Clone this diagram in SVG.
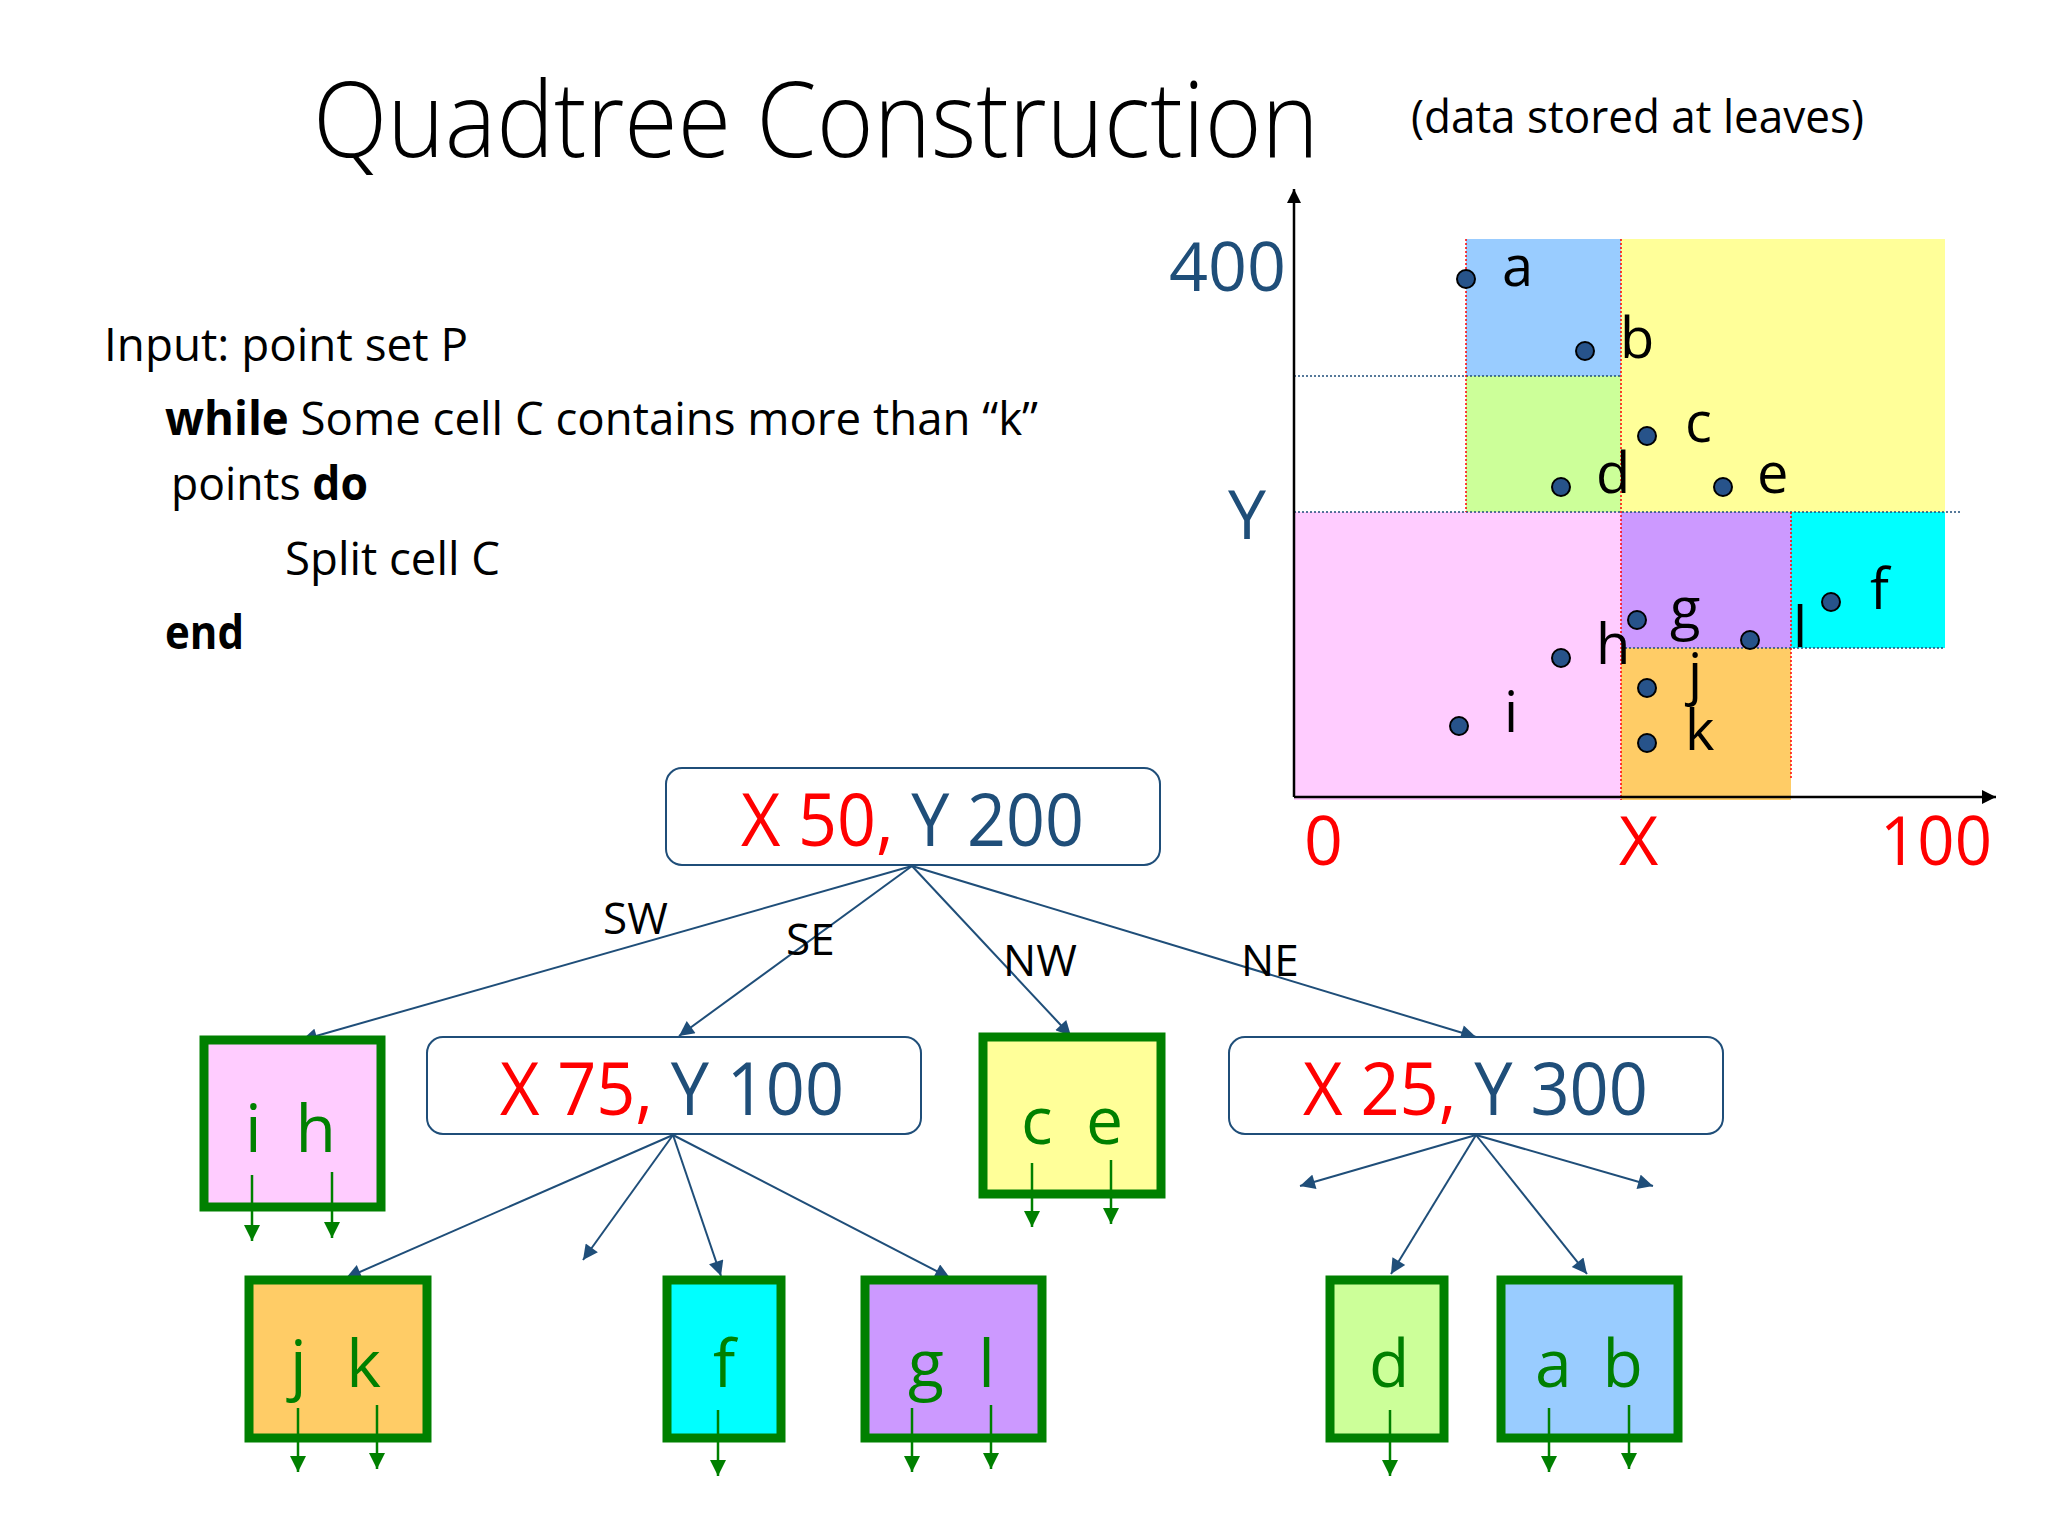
<svg xmlns="http://www.w3.org/2000/svg" width="2048" height="1536" viewBox="0 0 2048 1536">
<defs>
<marker id="mNavy" viewBox="0 0 10 10" refX="10" refY="5" markerWidth="17" markerHeight="15" markerUnits="userSpaceOnUse" orient="auto"><path d="M0,0 L10,5 L0,10 z" fill="#1F4E79"/></marker>
<marker id="mGreen" viewBox="0 0 10 10" refX="10" refY="5" markerWidth="16" markerHeight="16" markerUnits="userSpaceOnUse" orient="auto"><path d="M0,0 L10,5 L0,10 z" fill="#008000"/></marker>
<marker id="mBlack" viewBox="0 0 10 10" refX="10" refY="5" markerWidth="18" markerHeight="14" markerUnits="userSpaceOnUse" orient="auto"><path d="M0,0 L10,5 L0,10 z" fill="#000"/></marker>
</defs>
<style>
text{font-family:"Open Sans","Liberation Sans",sans-serif}
.t{fill:#000}
.b{font-weight:bold}
.red{fill:#FF0000}
.navy{fill:#1F4E79}
.split{fill:#fff;stroke:#1F4E79;stroke-width:2}
.leaf{stroke:#008000;stroke-width:9}
.lt{fill:#008000;font-size:66px}
.conn{stroke:#1F4E79;stroke-width:2;fill:none;marker-end:url(#mNavy)}
.garr{stroke:#008000;stroke-width:2.5;fill:none;marker-end:url(#mGreen)}
.dotB{stroke:#1F4E79;stroke-width:1.5;stroke-dasharray:2 2;fill:none}
.dotR{stroke:#FF0000;stroke-width:1.5;stroke-dasharray:2 2;fill:none}
.pt{fill:#27538A;stroke:#000;stroke-width:2}
.pl{font-size:56px;fill:#000}
.ax{font-size:68px}
.lbl{font-size:44px;fill:#000}
</style>
<rect width="2048" height="1536" fill="#fff"/>

<g id="title">
<text x="313" y="157" font-size="106" font-weight="300" textLength="1006" lengthAdjust="spacingAndGlyphs" class="t">Quadtree Construction</text>
<text x="1411" y="133" font-size="46" textLength="453" lengthAdjust="spacingAndGlyphs" class="t">(data stored at leaves)</text>
</g>

<g id="algorithm" font-size="46">
<text x="104" y="361" textLength="364" lengthAdjust="spacingAndGlyphs" class="t">Input: point set P</text>
<text x="165" y="435" textLength="873" lengthAdjust="spacingAndGlyphs" class="t"><tspan class="b">while</tspan> Some cell C contains more than “k”</text>
<text x="171" y="500" textLength="197" lengthAdjust="spacingAndGlyphs" class="t">points <tspan class="b">do</tspan></text>
<text x="285" y="575" textLength="215" lengthAdjust="spacingAndGlyphs" class="t">Split cell C</text>
<text x="165" y="649" textLength="79" lengthAdjust="spacingAndGlyphs" class="t b">end</text>
</g>

<g id="chart">
<rect x="1466" y="239" width="155" height="137" fill="#99CCFF"/>
<rect x="1621" y="239" width="324" height="273" fill="#FFFF99"/>
<rect x="1466" y="376" width="155" height="136" fill="#CCFF99"/>
<rect x="1294" y="512" width="327" height="288" fill="#FFCCFF"/>
<rect x="1621" y="512" width="170" height="136" fill="#CC99FF"/>
<rect x="1791" y="512" width="154" height="136" fill="#00FFFF"/>
<rect x="1621" y="648" width="170" height="152" fill="#FFCC66"/>
<path class="dotB" d="M1294,376 H1621 M1294,512 H1961 M1621,648 H1945"/>
<path class="dotR" d="M1466,239 V512 M1621,239 V800 M1791,512 V780"/>
<line x1="1294" y1="797" x2="1294" y2="189" stroke="#000" stroke-width="2.5" marker-end="url(#mBlack)"/>
<line x1="1294" y1="797" x2="1996" y2="797" stroke="#000" stroke-width="2.5" marker-end="url(#mBlack)"/>
<text x="1169" y="291" textLength="117" lengthAdjust="spacingAndGlyphs" class="ax navy">400</text>
<text x="1228" y="539" class="ax navy">Y</text>
<text x="1304" y="865" class="ax red">0</text>
<text x="1619" y="865" class="ax red">X</text>
<text x="1880" y="865" textLength="112" lengthAdjust="spacingAndGlyphs" class="ax red">100</text>
<circle class="pt" cx="1466" cy="279" r="9"/><text class="pl" x="1502" y="286">a</text>
<circle class="pt" cx="1585" cy="351" r="9"/><text class="pl" x="1620" y="358">b</text>
<circle class="pt" cx="1647" cy="436" r="9"/><text class="pl" x="1685" y="442">c</text>
<circle class="pt" cx="1561" cy="487" r="9"/><text class="pl" x="1596" y="493">d</text>
<circle class="pt" cx="1723" cy="487" r="9"/><text class="pl" x="1757" y="493">e</text>
<circle class="pt" cx="1831" cy="602" r="9"/><text class="pl" x="1870" y="609">f</text>
<circle class="pt" cx="1637" cy="620" r="9"/><text class="pl" x="1670" y="628">g</text>
<circle class="pt" cx="1750" cy="640" r="9"/><text class="pl" x="1793" y="647">l</text>
<circle class="pt" cx="1561" cy="658" r="9"/><text class="pl" x="1596" y="664">h</text>
<circle class="pt" cx="1647" cy="688" r="9"/><text class="pl" x="1688" y="693">j</text>
<circle class="pt" cx="1647" cy="743" r="9"/><text class="pl" x="1685" y="750">k</text>
<circle class="pt" cx="1459" cy="726" r="9"/><text class="pl" x="1504" y="732">i</text>
</g>

<g id="connectors">
<line class="conn" x1="912" y1="866" x2="302" y2="1040"/>
<line class="conn" x1="912" y1="866" x2="679" y2="1036"/>
<line class="conn" x1="912" y1="866" x2="1071" y2="1036"/>
<line class="conn" x1="912" y1="866" x2="1476" y2="1037"/>
<line class="conn" x1="673" y1="1135" x2="346" y2="1278"/>
<line class="conn" x1="673" y1="1135" x2="583" y2="1260"/>
<line class="conn" x1="673" y1="1135" x2="721" y2="1276"/>
<line class="conn" x1="673" y1="1135" x2="950" y2="1278"/>
<line class="conn" x1="1476" y1="1135" x2="1300" y2="1186"/>
<line class="conn" x1="1476" y1="1135" x2="1653" y2="1186"/>
<line class="conn" x1="1476" y1="1135" x2="1391" y2="1274"/>
<line class="conn" x1="1476" y1="1135" x2="1587" y2="1274"/>
<text class="lbl" x="603" y="934">SW</text>
<text class="lbl" x="786" y="955">SE</text>
<text class="lbl" x="1003" y="976">NW</text>
<text class="lbl" x="1241" y="976">NE</text>
</g>

<g id="node-root">
<rect class="split" x="666" y="768" width="494" height="97" rx="16"/>
<text x="741" y="846" font-size="74" textLength="343" lengthAdjust="spacingAndGlyphs"><tspan class="red">X 50,</tspan> <tspan class="navy">Y 200</tspan></text>
</g>
<g id="node-x75">
<rect class="split" x="427" y="1037" width="494" height="97" rx="16"/>
<text x="500" y="1115" font-size="74" textLength="344" lengthAdjust="spacingAndGlyphs"><tspan class="red">X 75,</tspan> <tspan class="navy">Y 100</tspan></text>
</g>
<g id="node-x25">
<rect class="split" x="1229" y="1037" width="494" height="97" rx="16"/>
<text x="1303" y="1115" font-size="74" textLength="345" lengthAdjust="spacingAndGlyphs"><tspan class="red">X 25,</tspan> <tspan class="navy">Y 300</tspan></text>
</g>

<g id="leaf-ih">
<rect class="leaf" x="204" y="1040" width="177" height="167" fill="#FFCCFF"/>
<text class="lt" x="245" y="1152" textLength="91">i h</text>
<line class="garr" x1="252" y1="1175" x2="252" y2="1241"/>
<line class="garr" x1="332" y1="1172" x2="332" y2="1238"/>
</g>
<g id="leaf-ce">
<rect class="leaf" x="983" y="1037" width="178" height="157" fill="#FFFF99"/>
<text class="lt" x="1021" y="1144" textLength="102">c e</text>
<line class="garr" x1="1032" y1="1163" x2="1032" y2="1227"/>
<line class="garr" x1="1111" y1="1160" x2="1111" y2="1224"/>
</g>
<g id="leaf-jk">
<rect class="leaf" x="249" y="1280" width="178" height="158" fill="#FFCC66"/>
<text class="lt" x="290" y="1387" textLength="91">j k</text>
<line class="garr" x1="298" y1="1408" x2="298" y2="1472"/>
<line class="garr" x1="377" y1="1405" x2="377" y2="1469"/>
</g>
<g id="leaf-f">
<rect class="leaf" x="667" y="1280" width="114" height="158" fill="#00FFFF"/>
<text class="lt" x="713" y="1387">f</text>
<line class="garr" x1="718" y1="1410" x2="718" y2="1476"/>
</g>
<g id="leaf-gl">
<rect class="leaf" x="865" y="1280" width="177" height="158" fill="#CC99FF"/>
<text class="lt" x="908" y="1387" textLength="87">g l</text>
<line class="garr" x1="912" y1="1408" x2="912" y2="1472"/>
<line class="garr" x1="991" y1="1405" x2="991" y2="1469"/>
</g>
<g id="leaf-d">
<rect class="leaf" x="1330" y="1280" width="114" height="158" fill="#CCFF99"/>
<text class="lt" x="1369" y="1387">d</text>
<line class="garr" x1="1390" y1="1410" x2="1390" y2="1476"/>
</g>
<g id="leaf-ab">
<rect class="leaf" x="1501" y="1280" width="177" height="158" fill="#99CCFF"/>
<text class="lt" x="1535" y="1387" textLength="108">a b</text>
<line class="garr" x1="1549" y1="1408" x2="1549" y2="1472"/>
<line class="garr" x1="1629" y1="1405" x2="1629" y2="1469"/>
</g>
</svg>
